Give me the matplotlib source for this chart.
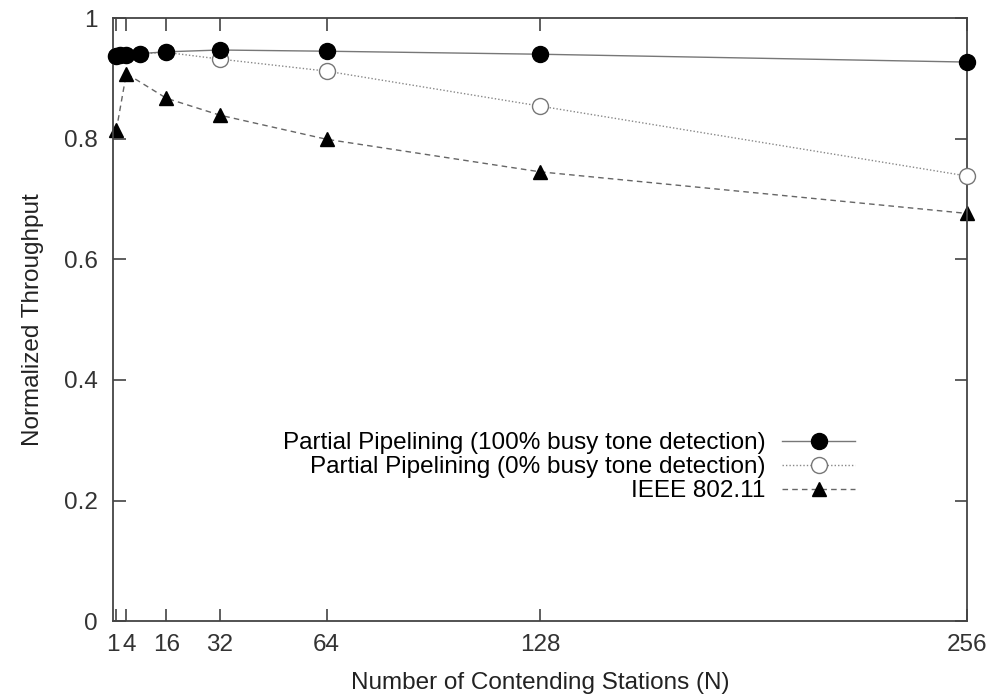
import matplotlib
matplotlib.use('Agg')
import matplotlib.pyplot as plt
from matplotlib.transforms import ScaledTranslation

plt.rcParams['font.family'] = ['Liberation Sans', 'DejaVu Sans']

# dados
n_pp = [1, 2, 4, 8, 16, 32, 64, 128, 256]
pp100 = [0.937, 0.938, 0.939, 0.941, 0.944, 0.947, 0.945, 0.940, 0.927]
pp0 = [0.937, 0.938, 0.939, 0.941, 0.943, 0.932, 0.912, 0.854, 0.738]

n_ieee = [1, 4, 16, 32, 64, 128, 256]
ieee = [0.814, 0.908, 0.867, 0.839, 0.799, 0.745, 0.676]

xticks = [1, 4, 16, 32, 64, 128, 256]
yticks = [0, 0.2, 0.4, 0.6, 0.8, 1]

fig = plt.figure(figsize=(9.91, 6.94), dpi=100)
ax = fig.add_axes([0.114, 0.105, 0.862, 0.869])

ax.plot(n_pp, pp100, color='#777777', lw=1.0, marker='o', ms=11.5,
        mfc='black', mec='black', zorder=4, clip_on=False,
        label='Partial Pipelining (100% busy tone detection)')
ax.plot(n_pp, pp0, color='#888888', lw=1.0, ls=(0, (1, 1.5)), marker='o', ms=11.5,
        mfc='white', mec='#777777', zorder=3, clip_on=False,
        label='Partial Pipelining (0% busy tone detection)')
ax.plot(n_ieee, ieee, color='#666666', lw=1.0, ls=(0, (4, 3)), marker='^', ms=9.5,
        mfc='black', mec='black', zorder=2, clip_on=False, label='IEEE 802.11')

ax.set_xlim(0, 256)
ax.set_ylim(0, 1)
ax.set_xticks(xticks)
ax.set_xticklabels([str(t) for t in xticks])
ax.set_yticks(yticks)
ax.set_yticklabels(['0', '0.2', '0.4', '0.6', '0.8', '1'])
ax.tick_params(direction='in', top=True, right=True, length=9, width=1.1,
               labelsize=17.5, colors='#333333')
ax.tick_params(axis='y', pad=11)
ax.tick_params(axis='x', pad=9)
for s in ax.spines.values():
    s.set_color('#444444')
    s.set_linewidth(1.3)

# afasta um pouco os rotulos 1 e 4 que ficam colados
labs = ax.get_xticklabels()
labs[0].set_transform(labs[0].get_transform() + ScaledTranslation(-3/100, 0, fig.dpi_scale_trans))
labs[1].set_transform(labs[1].get_transform() + ScaledTranslation(3/100, 0, fig.dpi_scale_trans))

ax.set_xlabel('Number of Contending Stations (N)', fontsize=17.5, labelpad=12, color='#222222')
ax.set_ylabel('Normalized Throughput', fontsize=17.5, labelpad=14, color='#222222')

ax.legend(loc='lower right', bbox_to_anchor=(0.869, 0.197), frameon=False,
          markerfirst=False, fontsize=17.5, handlelength=3.0, labelspacing=0.08,
          handletextpad=0.7, borderaxespad=0, borderpad=0)

fig.savefig('out.png', dpi=100)
